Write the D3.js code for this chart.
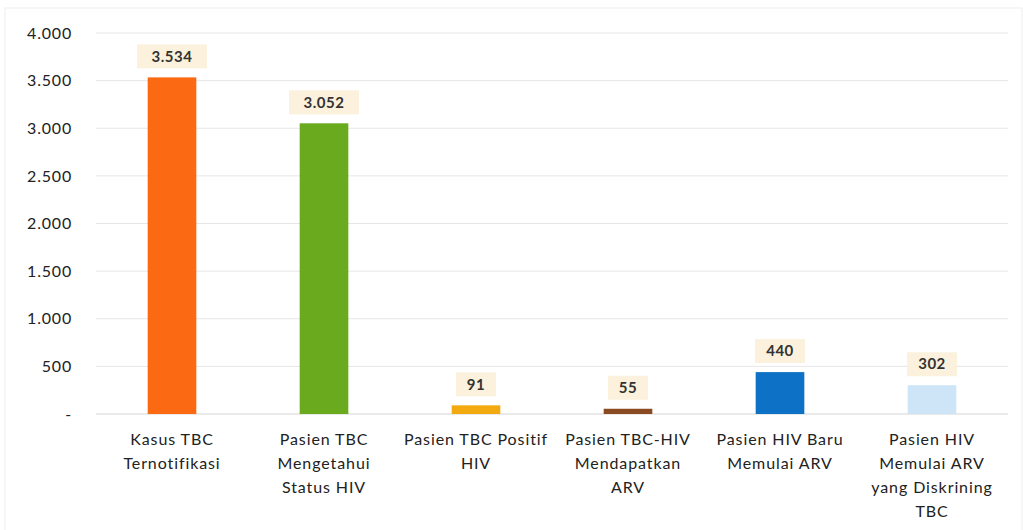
<!DOCTYPE html>
<html>
<head>
<meta charset="utf-8">
<script src="https://cdn.jsdelivr.net/npm/d3@7"></script>
<style>
  body { margin: 0; background: #fff; }
  text { font-family: Lato, "Open Sans", sans-serif; }
</style>
</head>
<body>
<div id="chart"></div>
<script>
// data
var categories = [
  ["Kasus TBC", "Ternotifikasi"],
  ["Pasien TBC", "Mengetahui", "Status HIV"],
  ["Pasien TBC Positif", "HIV"],
  ["Pasien TBC-HIV", "Mendapatkan", "ARV"],
  ["Pasien HIV Baru", "Memulai ARV"],
  ["Pasien HIV", "Memulai ARV", "yang Diskrining", "TBC"]
];
var values = [3534, 3052, 91, 55, 440, 302];
var barColors = ["#fb6a12", "#6aaa1e", "#f2aa10", "#8a4a22", "#0d72c6", "#cde5f6"];
var yTicks = [0, 500, 1000, 1500, 2000, 2500, 3000, 3500, 4000];

var width = 1023, height = 530;
var margin = {top: 33, left: 96, right: 15, bottom: 116};

var idLocale = d3.formatLocale({decimal: ",", thousands: ".", grouping: [3], currency: ["Rp", ""]});
var fmt = idLocale.format(",");

var svg = d3.select("#chart").append("svg")
    .attr("width", width)
    .attr("height", height);

svg.append("rect")
    .attr("x", 5).attr("y", 8)
    .attr("width", width - 6).attr("height", height - 6)
    .attr("fill", "#fff")
    .attr("stroke", "#eeeeee");

var x = d3.scaleBand()
    .domain(d3.range(categories.length))
    .range([margin.left, width - margin.right])
    .paddingInner(0.68)
    .paddingOuter(0.34);

var y = d3.scaleLinear()
    .domain([0, 4000])
    .range([height - margin.bottom, margin.top]);

// gridlines
svg.append("g")
    .selectAll("line")
    .data(yTicks)
    .enter().append("line")
    .attr("x1", margin.left)
    .attr("x2", width - margin.right)
    .attr("y1", function(d){ return y(d); })
    .attr("y2", function(d){ return y(d); })
    .attr("stroke", function(d){ return d == 0 ? "#d4d4d4" : "#e6e6e6"; })
    .attr("stroke-width", 1);

// y axis labels
var yAxis = d3.axisLeft(y)
    .tickValues(yTicks)
    .tickSize(0)
    .tickPadding(0)
    .tickFormat(function(d){ return d == 0 ? "-" : fmt(d); });

var ya = svg.append("g")
    .attr("transform", "translate(72,0)")
    .call(yAxis);
ya.select(".domain").remove();
ya.selectAll("text")
    .attr("font-size", "16px")
    .attr("letter-spacing", "0.8px")
    .attr("fill", "#222")
    .style("font-family", "Lato, 'Open Sans', sans-serif");

// bars
svg.append("g")
    .selectAll("rect")
    .data(values)
    .enter().append("rect")
    .attr("x", function(d, i){ return x(i); })
    .attr("y", function(d){ return y(d); })
    .attr("width", x.bandwidth())
    .attr("height", function(d){ return y(0) - y(d); })
    .attr("fill", function(d, i){ return barColors[i]; });

// value labels with beige box
var labels = svg.append("g")
    .selectAll("g")
    .data(values)
    .enter().append("g")
    .attr("transform", function(d, i){
        return "translate(" + (x(i) + x.bandwidth() / 2) + "," + (y(d) - 21) + ")";
    });

labels.append("rect")
    .attr("x", function(d){ return -(fmt(d).length * 5 + 10); })
    .attr("y", -12)
    .attr("width", function(d){ return fmt(d).length * 10 + 20; })
    .attr("height", 24)
    .attr("fill", "#fbf1dc");

labels.append("text")
    .attr("text-anchor", "middle")
    .attr("dy", "0.35em")
    .attr("font-size", "15px")
    .attr("font-weight", "bold")
    .attr("letter-spacing", "0.5px")
    .attr("fill", "#333")
    .text(function(d){ return fmt(d); });

// category labels
var cats = svg.append("g")
    .selectAll("text")
    .data(categories)
    .enter().append("text")
    .attr("text-anchor", "middle")
    .attr("font-size", "16px")
    .attr("letter-spacing", "0.9px")
    .attr("fill", "#222")
    .attr("x", function(d, i){ return x(i) + x.bandwidth() / 2; })
    .attr("y", 445);

cats.selectAll("tspan")
    .data(function(d){ return d; })
    .enter().append("tspan")
    .attr("x", function(){ return d3.select(this.parentNode).attr("x"); })
    .attr("dy", function(d, j){ return j == 0 ? 0 : 24; })
    .text(function(d){ return d; });
</script>
</body>
</html>
